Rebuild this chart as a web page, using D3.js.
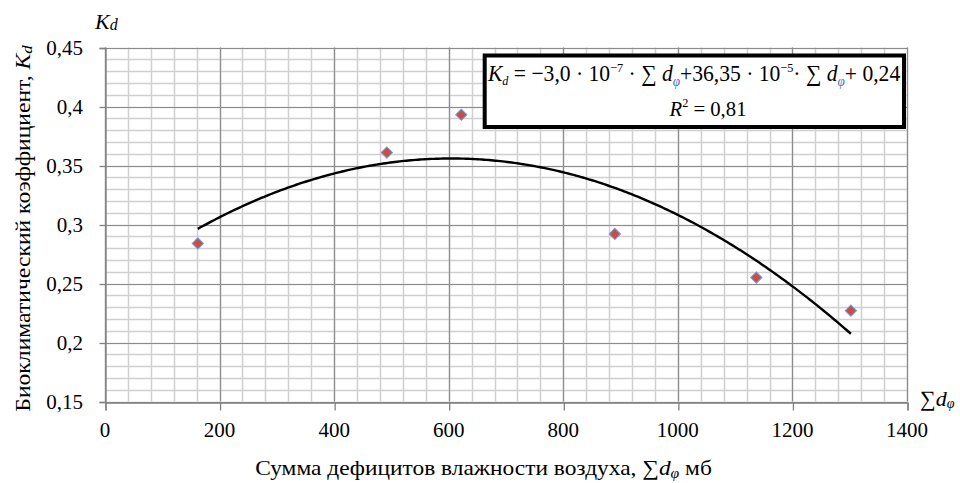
<!DOCTYPE html>
<html>
<head>
<meta charset="utf-8">
<script src="https://cdn.jsdelivr.net/npm/d3@7"></script>
<style>
  html, body { margin: 0; padding: 0; background: #fff; }
  svg { display: block; }
</style>
</head>
<body>
<svg id="chart" width="960" height="483"></svg>
<script>
// Sum of air humidity deficits (mb) and bioclimatic coefficient per site
const dSum = [162, 492, 622, 890, 1137, 1302];
const kd = [0.284, 0.361, 0.393, 0.292, 0.255, 0.227];

// Axis ticks
const xTicks = [0, 200, 400, 600, 800, 1000, 1200, 1400];
const yTicks = [0.15, 0.2, 0.25, 0.3, 0.35, 0.4, 0.45];
const xTickLabels = ["0", "200", "400", "600", "800", "1000", "1200", "1400"];
const yTickLabels = ["0,15", "0,2", "0,25", "0,3", "0,35", "0,4", "0,45"];

const FONT = "'Liberation Serif'";
const svg = d3.select("#chart");
const x = d3.scaleLinear().domain([0, 1400]).range([105, 907]);
const y = d3.scaleLinear().domain([0.15, 0.45]).range([401.5, 47.5]);

// New text element in the serif face used throughout the figure
function label(parent) {
  return parent.append("text").style("font-family", FONT).style("fill", "#000");
}

// Stretch a text element horizontally (in its own coordinates) to a target width
function fitWidth(node, target, ax) {
  const w = node.getBBox().width;
  const k = target / w;
  d3.select(node).attr("transform", `translate(${ax},0) scale(${k},1) translate(${-ax},0)`);
}

// ---- grid ----
const grid = svg.append("g");
const minorX = d3.range(0, 1401, 40);
const minorY = d3.range(15, 46, 1).map(v => v / 100);
grid.selectAll(".mx").data(minorX).join("line")
  .attr("x1", d => Math.round(x(d)) + 0.5).attr("x2", d => Math.round(x(d)) + 0.5)
  .attr("y1", y(0.45)).attr("y2", y(0.15))
  .attr("stroke", "#d0d0d0").attr("stroke-width", 1.5);
grid.selectAll(".my").data(minorY).join("line")
  .attr("y1", d => Math.round(y(d)) + 0.5).attr("y2", d => Math.round(y(d)) + 0.5)
  .attr("x1", x(0)).attr("x2", x(1400))
  .attr("stroke", "#d0d0d0").attr("stroke-width", 1.5);
grid.selectAll(".Mx").data(xTicks).join("line")
  .attr("x1", d => Math.round(x(d)) + 0.5).attr("x2", d => Math.round(x(d)) + 0.5)
  .attr("y1", y(0.45)).attr("y2", y(0.15))
  .attr("stroke", "#8c8c8c").attr("stroke-width", 1.2);
grid.selectAll(".My").data(yTicks).join("line")
  .attr("y1", d => Math.round(y(d)) + 0.5).attr("y2", d => Math.round(y(d)) + 0.5)
  .attr("x1", x(0)).attr("x2", x(1400))
  .attr("stroke", "#8c8c8c").attr("stroke-width", 1.2);

// ---- axes ----
const xAxis = svg.append("g")
  .attr("transform", `translate(0.5,${Math.round(y(0.15)) + 0.5})`)
  .call(d3.axisBottom(x).tickValues(xTicks).tickSize(8).tickFormat(""));
const yAxis = svg.append("g")
  .attr("transform", `translate(${Math.round(x(0)) + 0.5},0.5)`)
  .call(d3.axisLeft(y).tickValues(yTicks).tickSize(6).tickFormat(""));
[xAxis, yAxis].forEach(a => {
  a.select(".domain").attr("stroke", "#808080").attr("stroke-width", 1.3);
  a.selectAll(".tick line").attr("stroke", "#808080").attr("stroke-width", 1.3);
});

// tick labels
const xl = svg.append("g");
xTicks.forEach((d, i) => {
  label(xl).attr("x", x(d)).attr("y", 437)
    .attr("text-anchor", "middle").attr("font-size", 21)
    .text(xTickLabels[i]);
});
const yl = svg.append("g");
yTicks.forEach((d, i) => {
  label(yl).attr("x", 83).attr("y", y(d) + 7)
    .attr("text-anchor", "end").attr("font-size", 21)
    .text(yTickLabels[i]);
});

// ---- quadratic least-squares trend ----
function quadFit(xs, ys) {
  const S = [0, 0, 0, 0, 0], T = [0, 0, 0];
  xs.forEach((xv, i) => {
    for (let p = 0; p < 5; p++) S[p] += Math.pow(xv, p);
    for (let p = 0; p < 3; p++) T[p] += Math.pow(xv, p) * ys[i];
  });
  const M = [[S[0], S[1], S[2], T[0]], [S[1], S[2], S[3], T[1]], [S[2], S[3], S[4], T[2]]];
  for (let c = 0; c < 3; c++) {
    for (let r = c + 1; r < 3; r++) {
      const f = M[r][c] / M[c][c];
      for (let k = c; k < 4; k++) M[r][k] -= f * M[c][k];
    }
  }
  const b = [0, 0, 0];
  for (let r = 2; r >= 0; r--) {
    let s = M[r][3];
    for (let k = r + 1; k < 3; k++) s -= M[r][k] * b[k];
    b[r] = s / M[r][r];
  }
  return b; // c0 + c1*x + c2*x^2
}
const coef = quadFit(dSum, kd);
const trendX = d3.range(d3.min(dSum), d3.max(dSum) + 0.1, 4);
svg.append("path")
  .datum(trendX)
  .attr("fill", "none").attr("stroke", "#000").attr("stroke-width", 2.4)
  .attr("d", d3.line().x(d => x(d)).y(d => y(coef[0] + coef[1] * d + coef[2] * d * d)));

// ---- points ----
const diamond = d3.symbol(d3.symbolSquare, 64);
svg.append("g").selectAll("path").data(dSum).join("path")
  .attr("d", diamond)
  .attr("transform", (d, i) => `translate(${x(d)},${y(kd[i])}) rotate(45)`)
  .attr("fill", "#c0504d").attr("stroke", "#7d9bd0").attr("stroke-width", 1);

// ---- equation box ----
svg.append("rect")
  .attr("x", 484.7).attr("y", 55.5).attr("width", 419.3).attr("height", 71.5)
  .attr("fill", "#fff").attr("stroke", "#000").attr("stroke-width", 4);

const eq = label(svg).attr("x", 694).attr("y", 81)
  .attr("text-anchor", "middle").attr("font-size", 23);
eq.append("tspan").attr("font-style", "italic").text("K");
eq.append("tspan").attr("font-style", "italic").attr("font-size", 13).attr("dy", 4).text("d");
eq.append("tspan").attr("dy", -4).text(" = −3,0 · 10");
eq.append("tspan").attr("font-size", 13).attr("dy", -9).text("−7");
eq.append("tspan").attr("dy", 9).text(" · ∑ ");
eq.append("tspan").attr("font-style", "italic").text("d");
eq.append("tspan").attr("font-style", "italic").attr("font-size", 14).attr("dy", 5).style("fill", "#3f6fb8").text("φ");
eq.append("tspan").attr("dy", -5).text("+36,35 · 10");
eq.append("tspan").attr("font-size", 13).attr("dy", -9).text("−5");
eq.append("tspan").attr("dy", 9).text("· ∑ ");
eq.append("tspan").attr("font-style", "italic").text("d");
eq.append("tspan").attr("font-style", "italic").attr("font-size", 14).attr("dy", 5).style("fill", "#3f6fb8").text("φ");
eq.append("tspan").attr("dy", -5).text("+ 0,24");
fitWidth(eq.node(), 414, 695);

const r2 = label(svg).attr("x", 708).attr("y", 116)
  .attr("text-anchor", "middle").attr("font-size", 22);
r2.append("tspan").attr("font-style", "italic").text("R");
r2.append("tspan").attr("font-size", 13).attr("dy", -9).text("2");
r2.append("tspan").attr("dy", 9).text(" = 0,81");
fitWidth(r2.node(), 78, 708);

// ---- axis titles ----
const kTop = label(svg).attr("x", 95).attr("y", 29).attr("font-size", 22).attr("font-style", "italic");
kTop.append("tspan").text("K");
kTop.append("tspan").attr("font-size", 16).attr("dy", 1).text("d");

const sTop = label(svg).attr("x", 920).attr("y", 406).attr("font-size", 22);
sTop.append("tspan").text("∑");
sTop.append("tspan").attr("font-style", "italic").text("d");
sTop.append("tspan").attr("font-style", "italic").attr("font-size", 14).attr("dy", 2).text("φ");

const xt = label(svg).attr("x", 483.5).attr("y", 475)
  .attr("text-anchor", "middle").attr("font-size", 21);
xt.append("tspan").text("Сумма дефицитов влажности воздуха, ∑");
xt.append("tspan").attr("font-style", "italic").text("d");
xt.append("tspan").attr("font-style", "italic").attr("font-size", 14).attr("dy", 3).text("φ");
xt.append("tspan").attr("dy", -3).text(" мб");
fitWidth(xt.node(), 457, 483.5);

const ytG = svg.append("g").attr("transform", "translate(30,228.5) rotate(-90)");
const yt = label(ytG).attr("x", 0).attr("y", 0)
  .attr("text-anchor", "middle").attr("font-size", 21);
yt.append("tspan").text("Биоклиматический коэффициент, ");
yt.append("tspan").attr("font-style", "italic").text("K");
yt.append("tspan").attr("font-style", "italic").attr("font-size", 15).attr("dy", 2).text("d");
fitWidth(yt.node(), 367, 0);
</script>
</body>
</html>
